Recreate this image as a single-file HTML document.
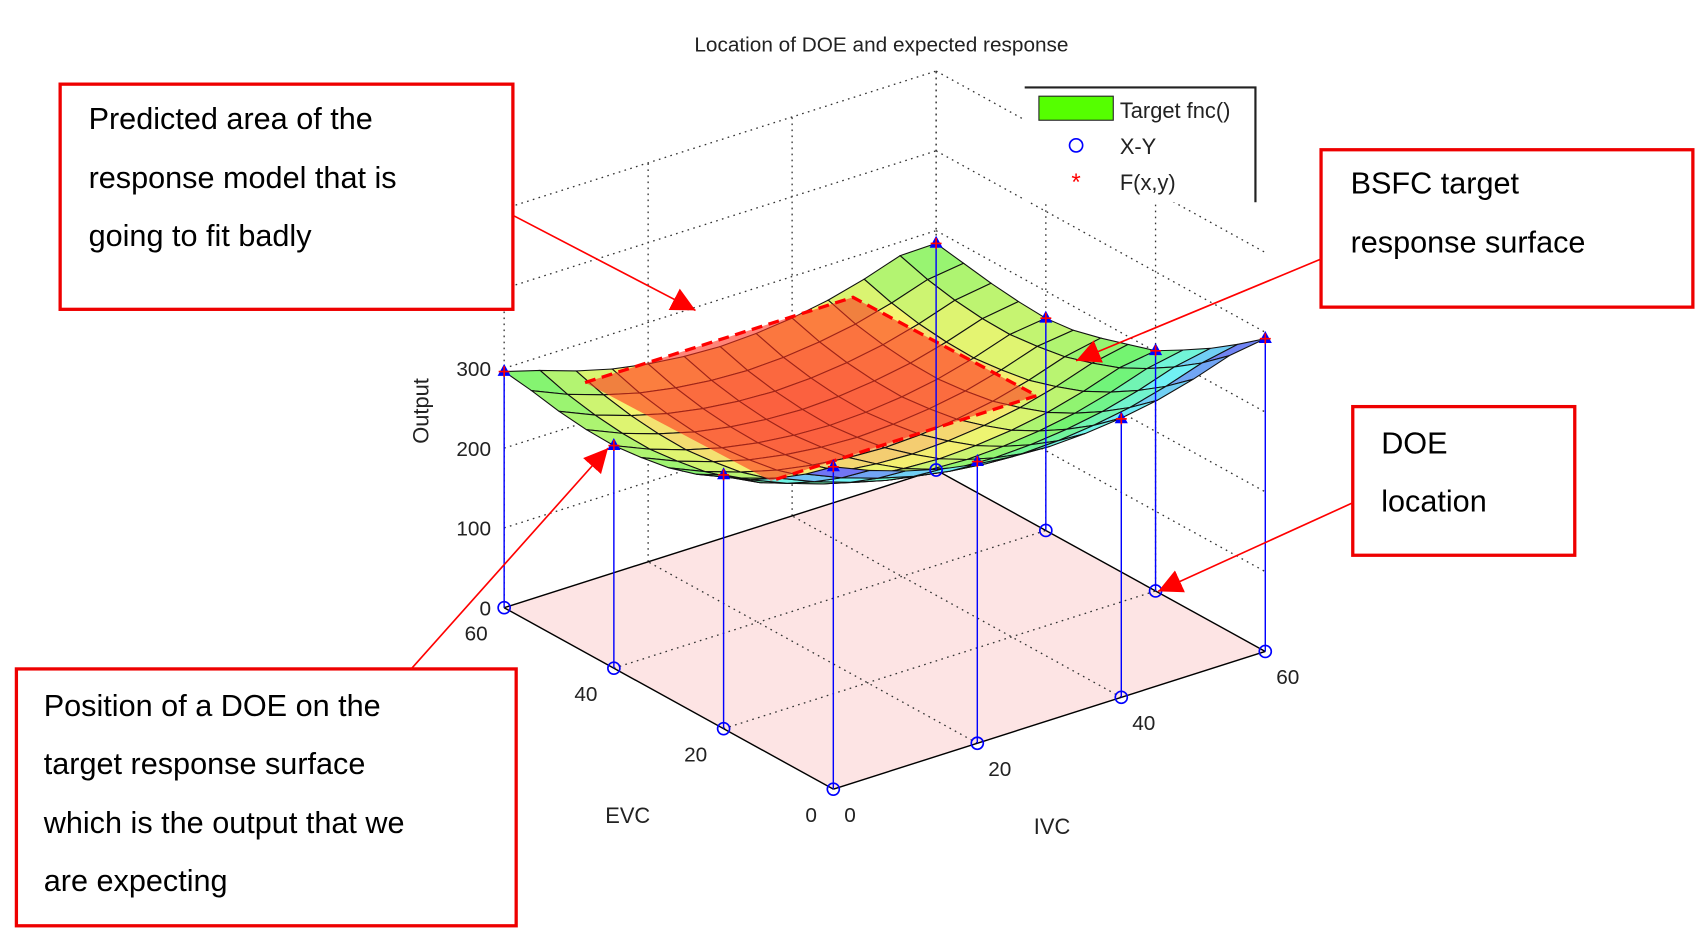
<!DOCTYPE html>
<html><head><meta charset="utf-8"><style>
html,body{margin:0;padding:0;background:#fff;overflow:hidden}
svg{display:block;font-family:"Liberation Sans",sans-serif}
</style></head><body>
<svg id="chart" width="1706" height="940" viewBox="0 0 1560 860" preserveAspectRatio="none" xmlns="http://www.w3.org/2000/svg">
<text x="806" y="47" font-size="19" text-anchor="middle" fill="#222">Location of DOE and expected response</text>
<g id="grid"></g>
<g id="surface"></g>
<g id="overlay">
<polygon points="535,350 780,272 948,362 705,440" fill="rgba(255,50,30,0.6)"/>
<polyline points="535,350 780,272 948,362 705,440" fill="none" stroke="#f00" stroke-width="3" stroke-dasharray="10,6"/>
</g>
<g id="doe"></g>
<g id="labels"></g>
<g>
<rect x="937" y="80" width="211" height="105" fill="#fff"/>
<polyline points="937,80 1148,80 1148,185" fill="none" stroke="#222" stroke-width="2"/>
<rect x="950" y="88" width="68" height="22" fill="#55ff00" stroke="#222" stroke-width="1"/>
<text x="1024" y="108" font-size="20" fill="#222">Target fnc()</text>
<circle cx="984" cy="133" r="6" fill="none" stroke="#00f" stroke-width="1.5"/>
<text x="1024" y="141" font-size="20" fill="#222">X-Y</text>
<text x="984" y="174" font-size="22" fill="#f00" text-anchor="middle">*</text>
<text x="1024" y="174" font-size="20" fill="#222">F(x,y)</text>
</g>
<defs><marker id="ah" viewBox="0 0 10 10" refX="10" refY="5" markerWidth="22" markerHeight="22" markerUnits="userSpaceOnUse" orient="auto"><path d="M0,0 L10,5 L0,10 z" fill="#f00"/></marker></defs>
<g font-size="28" fill="#000">
<rect x="55" y="77" width="414" height="206" fill="#fff" stroke="#e00" stroke-width="3"/>
<text x="81" y="118">Predicted area of the</text><text x="81" y="172">response model that is</text><text x="81" y="225">going to fit badly</text>
<rect x="1208" y="137" width="340" height="144" fill="#fff" stroke="#e00" stroke-width="3"/>
<text x="1235" y="177">BSFC target</text><text x="1235" y="231">response surface</text>
<rect x="1237" y="372" width="203" height="136" fill="#fff" stroke="#e00" stroke-width="3"/>
<text x="1263" y="415">DOE</text><text x="1263" y="468">location</text>
<rect x="15" y="612" width="457" height="235" fill="#fff" stroke="#e00" stroke-width="3"/>
<text x="40" y="655">Position of a DOE on the</text><text x="40" y="708">target response surface</text><text x="40" y="762">which is the output that we</text><text x="40" y="815">are expecting</text>
<line x1="469" y1="197" x2="636" y2="284" stroke="#f00" stroke-width="1.5" marker-end="url(#ah)"/>
<line x1="1208" y1="237" x2="984" y2="330" stroke="#f00" stroke-width="1.5" marker-end="url(#ah)"/>
<line x1="1237" y1="460" x2="1059" y2="541" stroke="#f00" stroke-width="1.5" marker-end="url(#ah)"/>
<line x1="376" y1="612" x2="556" y2="410" stroke="#f00" stroke-width="1.5" marker-end="url(#ah)"/>
</g>
</svg>
<script>
var gridStep = [0,5,10,15,20,25,30,35,40,45,50,55,60];
var surfaceRows = [
[404,385,370,358,350,345,343,345,350,358,370,385,392],
[376,357,342,330,322,317,315,317,322,330,342,357,366],
[352,333,318,306,298,293,291,293,298,306,318,333,342],
[331,312,297,285,277,272,270,272,277,285,297,312,321],
[318,294,279,267,259,254,252,254,259,267,279,294,301],
[300,281,266,254,246,241,239,241,246,254,266,281,290],
[289,270,255,243,235,230,228,230,235,243,255,270,279],
[283,264,249,237,229,224,222,224,229,237,249,264,270],
[279,260,245,233,225,220,218,220,225,233,245,260,266],
[280,261,246,234,226,221,219,221,226,234,246,261,268],
[284,265,250,238,230,225,223,225,230,238,250,265,272],
[291,272,257,245,237,232,230,232,237,245,257,272,278],
[296,283,268,256,248,243,241,243,248,256,268,283,284]];
var doeIVC = [0,0,0,0,20,40,60,60,60,60];
var doeEVC = [60,40,20,0,0,0,0,20,40,60];
var doeOut = [296,279,318,404,353,349,392,301,266,284];
var zTicks = [0,100,200,300];
var xyTicks = [0,20,40,60];

var NS="http://www.w3.org/2000/svg";
function P(i,e,z){return [762+i/60*395-e/60*301, 722-i/60*126-e/60*166-z*0.73];}
function mk(parent,tag,attrs){var el=document.createElementNS(NS,tag);for(var k in attrs)el.setAttribute(k,attrs[k]);parent.appendChild(el);return el;}
function pts(a){return a.map(function(p){return p[0].toFixed(1)+","+p[1].toFixed(1);}).join(" ");}
var G=document.getElementById('grid'),S=document.getElementById('surface'),D=document.getElementById('doe'),L=document.getElementById('labels');
var dot={stroke:"#333","stroke-width":1.2,"stroke-dasharray":"1.5,4",fill:"none"};
var floor=mk(G,'polygon',{points:pts([P(0,0,0),P(60,0,0),P(60,60,0),P(0,60,0)]),fill:"#fde4e4",stroke:"none"});


function ln(a,b,st){var o={x1:a[0],y1:a[1],x2:b[0],y2:b[1]};for(var k in st)o[k]=st[k];return mk(G,'line',o);}
xyTicks.forEach(function(t){
  if(t>0&&t<60){ln(P(t,0,0),P(t,60,0),dot);ln(P(0,t,0),P(60,t,0),dot);}
  if(t>0){ln(P(t,60,0),P(t,60,500),dot);ln(P(60,t,0),P(60,t,500),dot);}
});
ln(P(0,60,0),P(0,60,500),dot);
[100,200,300,400,500].forEach(function(z){ln(P(0,60,z),P(60,60,z),dot);ln(P(60,60,z),P(60,0,z),dot);});
var solid={stroke:"#000","stroke-width":1.3};
ln(P(0,60,0),P(0,0,0),solid);ln(P(0,0,0),P(60,0,0),solid);ln(P(0,60,0),P(60,60,0),solid);ln(P(60,60,0),P(60,0,0),solid);
var N=gridStep.length,quads=[];
for(var r=0;r<N-1;r++)for(var c=0;c<N-1;c++)quads.push([r,c]);
quads.sort(function(a,b){return (b[0]+b[1])-(a[0]+a[1]);});
function col(v){var h=20+(v-218)/(404-218)*250;return "hsl("+h.toFixed(0)+",85%,70%)";}
quads.forEach(function(q){
  var r=q[0],c=q[1];
  var vs=[surfaceRows[r][c],surfaceRows[r][c+1],surfaceRows[r+1][c+1],surfaceRows[r+1][c]];
  var p=[P(gridStep[c],gridStep[r],vs[0]),P(gridStep[c+1],gridStep[r],vs[1]),P(gridStep[c+1],gridStep[r+1],vs[2]),P(gridStep[c],gridStep[r+1],vs[3])];
  var m=(vs[0]+vs[1]+vs[2]+vs[3])/4;
  var el=mk(S,'polygon',{points:pts(p),fill:col(m),stroke:"#111","stroke-width":1});
  
  
});
doeIVC.forEach(function(iv,k){
  var b=P(iv,doeEVC[k],0),t=P(iv,doeEVC[k],doeOut[k]);
  var l=mk(D,'line',{x1:b[0],y1:b[1],x2:t[0],y2:t[1],stroke:"#00f","stroke-width":1.3});
  
  
  var c=mk(D,'circle',{cx:b[0],cy:b[1],r:5.5,fill:"none",stroke:"#00f","stroke-width":1.5});
  
  
  var tr=mk(D,'polygon',{points:pts([[t[0],t[1]-7],[t[0]-6,t[1]+4],[t[0]+6,t[1]+4]]),fill:"#00f"});
  
  
  mk(D,'path',{d:"M"+(t[0]-5)+","+t[1]+"h10M"+t[0]+","+(t[1]-5)+"v10",stroke:"#f00","stroke-width":1.5});
});
function tx(x,y,s,anchor,size){var t=mk(L,'text',{x:x,y:y,"font-size":size||19,"text-anchor":anchor||"end",fill:"#222"});t.textContent=s;return t;}
zTicks.forEach(function(z){var p=P(0,60,z);var t=tx(p[0]-12,p[1]+7,String(z));});
xyTicks.forEach(function(v){
  var p=P(v,0,0);var t=tx(p[0]+10,p[1]+30,String(v),"start");
  var q=P(0,v,0);var u=tx(q[0]-15,q[1]+30,String(v),"end");
});
var xl=tx(962,763,"IVC","middle",20);
var yl=tx(574,753,"EVC","middle",20);
var zl=tx(0,0,"Output","middle",20);zl.setAttribute('transform','translate(392,376) rotate(-90)');
</script>
</body></html>
